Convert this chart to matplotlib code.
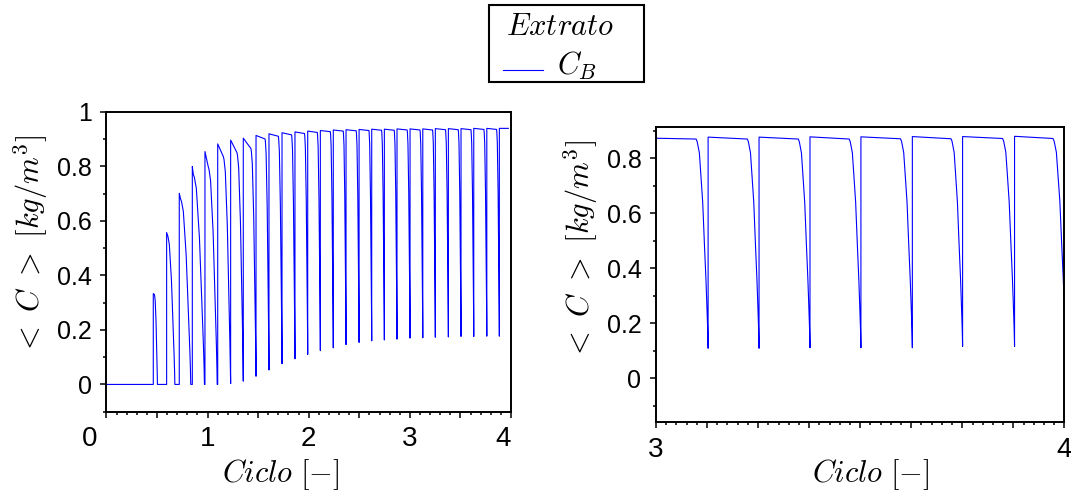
import numpy as np
import matplotlib
matplotlib.use('Agg')
import matplotlib.pyplot as plt
from matplotlib.ticker import MultipleLocator, FuncFormatter
from matplotlib.patches import Rectangle
from matplotlib.lines import Line2D

plt.rcParams['mathtext.fontset'] = 'cm'
plt.rcParams['font.family'] = ['Liberation Sans', 'DejaVu Sans']

# Left panel: extract concentration over cycles 0 - 4 (one entry per switching pulse)
starts_left = [0.463, 0.595, 0.720, 0.849, 0.974, 1.100, 1.228, 1.353, 1.479, 1.607,
               1.736, 1.864, 1.990, 2.115, 2.243, 2.369, 2.498, 2.623, 2.748, 2.873,
               3.002, 3.128, 3.252, 3.381, 3.506, 3.632, 3.761, 3.885]
peaks_left = [0.333, 0.557, 0.701, 0.799, 0.854, 0.882, 0.896, 0.903, 0.913, 0.919,
              0.923, 0.926, 0.929, 0.931, 0.933, 0.934, 0.935, 0.936, 0.936, 0.937,
              0.937, 0.937, 0.938, 0.938, 0.938, 0.939, 0.939, 0.939]
shoulders_left = [0.330, 0.550, 0.680, 0.770, 0.800, 0.835, 0.850, 0.865, 0.900, 0.910,
                  0.915, 0.920, 0.924, 0.927, 0.929, 0.930, 0.931, 0.932, 0.932, 0.933,
                  0.933, 0.933, 0.934, 0.934, 0.934, 0.935, 0.935, 0.935]
knees_left = [0.08, 0.05, 0.10, 0.08, 0.25, 0.44, 0.50, 0.60, 0.70, 0.72,
              0.74, 0.75, 0.76, 0.77, 0.78, 0.78, 0.78, 0.78, 0.78, 0.78,
              0.78, 0.78, 0.78, 0.78, 0.78, 0.78, 0.78, 0.78]
ends_left = [0.31, 0.65, 0.88, 0.96, 0.96, 0.99, 1.0, 1.0, 1.0, 1.0,
             1.0, 1.0, 1.0, 1.0, 1.0, 1.0, 1.0, 1.0, 1.0, 1.0,
             1.0, 1.0, 1.0, 1.0, 1.0, 1.0, 1.0, 1.0]
troughs_left = [0.0, 0.0, 0.0, 0.0, 0.0, 0.003, 0.012, 0.030, 0.053, 0.076,
                0.094, 0.110, 0.124, 0.134, 0.146, 0.154, 0.160, 0.163, 0.166, 0.170,
                0.171, 0.173, 0.174, 0.176, 0.176, 0.177, 0.177, 0.178]
stop_left = 3.974

# Right panel: zoom on cycle 3 - 4
starts_right = [3.0, 3.1276, 3.2523, 3.3770, 3.5017, 3.6276, 3.7506, 3.8778]
peaks_right = [0.872, 0.876, 0.876, 0.877, 0.877, 0.878, 0.878, 0.879]
shoulders_right = [0.869, 0.869, 0.869, 0.869, 0.870, 0.870, 0.871, 0.871]
knees_right = [0.77, 0.77, 0.77, 0.77, 0.77, 0.77, 0.77, 0.74]
ends_right = [1.0, 1.0, 1.0, 1.0, 1.0, 1.0, 1.0, 0.98]
troughs_right = [0.108, 0.108, 0.110, 0.110, 0.110, 0.115, 0.115, 0.115]

drop_u = [0.0, 0.09, 0.27, 0.41, 0.55, 0.70, 0.82, 0.91, 0.97, 1.0]
drop_f = [1.0, 0.987, 0.934, 0.816, 0.697, 0.487, 0.329, 0.184, 0.079, 0.0]

# x tick labels that sit off their tick in the original (label x position, text)
left_edge_labels = [(-0.163, '0'), (3.925, '4')]


def build_trace(t0, c0, starts, peaks, shoulders, knees, ends, troughs, t_stop=None):
    t, c = [t0], [c0]
    prev = c0
    for i, ts in enumerate(starts):
        if i + 1 < len(starts):
            period = starts[i + 1] - ts
        else:
            period = ts - starts[i - 1]
        t += [ts, ts, ts + knees[i] * period]
        c += [prev, peaks[i], shoulders[i]]
        for u, f in zip(drop_u[1:], drop_f[1:]):
            t.append(ts + (knees[i] + u * (ends[i] - knees[i])) * period)
            c.append(troughs[i] + (shoulders[i] - troughs[i]) * f)
        prev = troughs[i]
    t, c = np.array(t), np.array(c)
    if t_stop is not None:
        keep = t <= t_stop
        t = np.append(t[keep], t_stop)
        c = np.append(c[keep], c[keep][-1])
    return t, c


def style_axes(ax):
    for sp in ax.spines.values():
        sp.set_linewidth(1.4)
    ax.tick_params(which='both', direction='out', top=False, right=False, width=1.1)
    ax.tick_params(which='major', length=4.5, pad=6)
    ax.tick_params(which='minor', length=2.2)
    ax.tick_params(axis='x', labelsize=20)
    ax.tick_params(axis='y', labelsize=18)


ylabel_text = r'$<\ C\ >\ [kg/m^3]$'
xlabel_text = r'$Ciclo\ [-]$'
W, H = 1071, 495

fig = plt.figure(figsize=(10.71, 4.95), dpi=100)
ax1 = fig.add_axes([0.0994, 0.1683, 0.3777, 0.6060])
ax2 = fig.add_axes([0.6125, 0.1469, 0.3814, 0.5972])

tl, cl = build_trace(0.0, 0.0, starts_left, peaks_left, shoulders_left,
                     knees_left, ends_left, troughs_left, stop_left)
line, = ax1.plot(tl, cl, color='#0000ff', linewidth=0.8)
ax1.set_xlim(0, 4)
ax1.set_ylim(-0.1, 1.0)
ax1.xaxis.set_major_locator(MultipleLocator(0.5))
ax1.xaxis.set_minor_locator(MultipleLocator(0.1))
ax1.xaxis.set_major_formatter(FuncFormatter(
    lambda v, p: '%d' % round(v) if abs(v - round(v)) < 1e-6 and 0.5 < v < 3.5 else ''))
ax1.yaxis.set_major_locator(MultipleLocator(0.2))
ax1.yaxis.set_minor_locator(MultipleLocator(0.1))
ax1.yaxis.set_major_formatter(FuncFormatter(lambda v, p: '%g' % round(v, 3)))
style_axes(ax1)
for xpos, txt in left_edge_labels:
    ax1.text(xpos, -0.0487, txt, transform=ax1.get_xaxis_transform(),
             ha='center', va='top', fontsize=20)
ax1.set_xlabel(xlabel_text, fontsize=22, va='center')
ax1.xaxis.set_label_coords(0.43, -0.211)
ax1.set_ylabel(ylabel_text, fontsize=22, va='center')
ax1.yaxis.set_label_coords(-0.188, 0.556)

tr, cr = build_trace(3.0, 0.872, starts_right, peaks_right, shoulders_right,
                     knees_right, ends_right, troughs_right)
ax2.plot(tr, cr, color='#0000ff', linewidth=0.8)
ax2.set_xlim(3, 4)
ax2.set_ylim(-0.161, 0.914)
ax2.xaxis.set_major_locator(MultipleLocator(0.125))
ax2.xaxis.set_minor_locator(MultipleLocator(0.025))
ax2.xaxis.set_major_formatter(FuncFormatter(
    lambda v, p: '%d' % round(v) if abs(v - round(v)) < 1e-6 else ''))
ax2.yaxis.set_major_locator(MultipleLocator(0.2))
ax2.yaxis.set_minor_locator(MultipleLocator(0.1))
ax2.yaxis.set_major_formatter(FuncFormatter(lambda v, p: '%g' % round(v, 3)))
style_axes(ax2)
ax2.set_xlabel(xlabel_text, fontsize=22, va='center')
ax2.xaxis.set_label_coords(0.526, -0.178)
ax2.set_ylabel(ylabel_text, fontsize=22, va='center')
ax2.yaxis.set_label_coords(-0.186, 0.583)

# legend box drawn by hand to keep the original's spacing
fig.add_artist(Rectangle((489 / W, 1 - 82 / H), 155 / W, 77 / H, transform=fig.transFigure,
                         fill=False, edgecolor='black', linewidth=1.5))
fig.text(560 / W, 1 - 35 / H, r'$Extrato$', ha='center', va='baseline', fontsize=22)
fig.add_artist(Line2D([503 / W, 543 / W], [1 - 70 / H, 1 - 70 / H], transform=fig.transFigure,
                      color=line.get_color(), linewidth=line.get_linewidth()))
fig.text(557 / W, 1 - 75 / H, r'$C_B$', ha='left', va='baseline', fontsize=22)

fig.savefig('out.png', dpi=100, facecolor='white')
